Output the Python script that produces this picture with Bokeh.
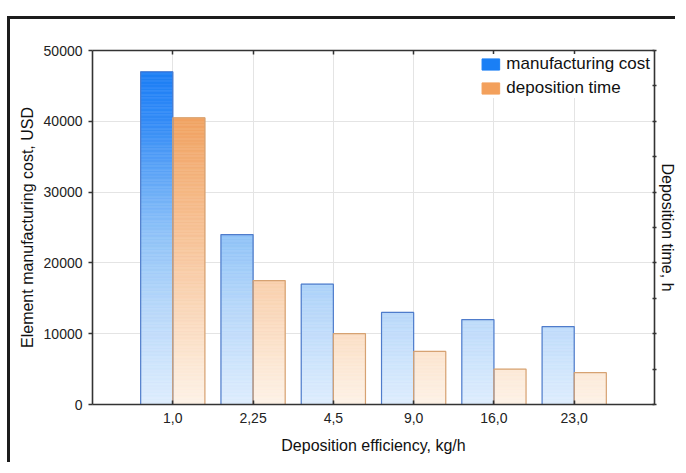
import numpy as np
from bokeh.plotting import figure
from bokeh.models import ColumnDataSource, FixedTicker, LinearAxis, Legend, LegendItem, Range1d
from bokeh.embed import file_html
from bokeh.resources import INLINE

categories = ["1,0", "2,25", "4,5", "9,0", "16,0", "23,0"]
manufacturing_cost = [47000, 24000, 17000, 13000, 12000, 11000]
deposition_time = [40500, 17500, 10000, 7500, 5000, 4500]
y_ticks = [0, 10000, 20000, 30000, 40000, 50000]
right_ticks = list(range(0, 50001, 5000))

# gradient stops (value -> rgb), gradient follows the y scale
blue_stops = [(0, (222, 237, 253)), (13000, (186, 217, 250)), (24000, (144, 195, 248)),
              (40000, (52, 140, 246)), (50000, (18, 120, 245))]
orange_stops = [(0, (253, 242, 231)), (10000, (251, 223, 198)), (17500, (249, 207, 172)),
                (40500, (241, 163, 98)), (50000, (236, 148, 78))]

FONT = "Liberation Sans"
BW = 0.4
STEP = 200.0


def grad_color(v, stops):
    xs = [s[0] for s in stops]
    rgb = [int(round(np.interp(v, xs, [s[1][k] for s in stops]))) for k in range(3)]
    return "#%02x%02x%02x" % tuple(rgb)


def slices(values, offset, stops):
    left, right, bottom, top, color = [], [], [], [], []
    for i, v in enumerate(values):
        edges = list(np.arange(0, v, STEP)) + [v]
        for b, t in zip(edges[:-1], edges[1:]):
            left.append(i + offset)
            right.append(i + offset + BW)
            bottom.append(b)
            top.append(t)
            color.append(grad_color((b + t) / 2, stops))
    return ColumnDataSource(dict(left=left, right=right, bottom=bottom, top=top, color=color))


p = figure(width=668, height=446, output_backend="svg", toolbar_location=None,
           x_range=Range1d(-1, len(categories)), y_range=Range1d(0, 50000),
           min_border_left=82, min_border_right=22, min_border_top=31, min_border_bottom=61)
p.styles = {"border-left": "3px solid #1c1c1c", "border-top": "3px solid #1c1c1c"}
p.margin = (16, 0, 0, 7)
p.outline_line_color = None
p.background_fill_color = "white"

xs = np.arange(len(categories))

# bars
sb = slices(manufacturing_cost, -BW, blue_stops)
so = slices(deposition_time, 0.0, orange_stops)
p.quad(left="left", right="right", bottom="bottom", top="top", fill_color="color",
       line_color="color", line_width=0.6, source=sb)
p.quad(left="left", right="right", bottom="bottom", top="top", fill_color="color",
       line_color="color", line_width=0.6, source=so)
p.quad(left=xs - BW, right=xs, bottom=0, top=manufacturing_cost, fill_color=None,
       line_color="#4f7ccb", line_width=1.2)
p.quad(left=xs, right=xs + BW, bottom=0, top=deposition_time, fill_color=None,
       line_color="#d6a272", line_width=1.2)

# legend swatches (not drawn in the plot area: NaN geometry)
nan = [float("nan")]
r_blue = p.quad(left=nan, right=nan, bottom=nan, top=nan, fill_color="#1a7ff5", line_color="#1a7ff5")
r_or = p.quad(left=nan, right=nan, bottom=nan, top=nan, fill_color="#f3a05c", line_color="#f3a05c")
legend = Legend(items=[LegendItem(label="manufacturing cost", renderers=[r_blue]),
                       LegendItem(label="deposition time", renderers=[r_or])],
                location="top_right", margin=4, padding=3, spacing=4, label_standoff=5,
                glyph_width=22, glyph_height=14, border_line_color=None,
                background_fill_color="white", background_fill_alpha=1.0,
                label_text_font=FONT, label_text_font_size="17px", label_text_color="#111111",
                label_height=14)
p.add_layout(legend)

# grids
p.xgrid.ticker = FixedTicker(ticks=list(xs))
p.ygrid.ticker = FixedTicker(ticks=y_ticks)
for g in (p.xgrid, p.ygrid):
    g.grid_line_color = "#e4e4e4"
    g.grid_line_width = 1

# bottom axis
ax = p.xaxis[0]
ax.ticker = FixedTicker(ticks=list(xs))
ax.major_label_overrides = {int(i): c for i, c in zip(xs, categories)}
ax.axis_label = "Deposition efficiency, kg/h"
ax.minor_tick_line_color = None
ax.major_tick_in = 4
ax.major_tick_out = 0
ax.major_label_standoff = 8

# left axis
ay = p.yaxis[0]
ay.ticker = FixedTicker(ticks=y_ticks)
ay.axis_label = "Element manufacturing cost, USD"
ay.minor_tick_line_color = None
ay.major_tick_in = 0
ay.major_tick_out = 4
ay.major_label_standoff = 6

# top axis
top = LinearAxis(ticker=FixedTicker(ticks=list(xs)),
                 major_label_overrides={int(i): "" for i in xs})
top.minor_tick_line_color = None
top.major_tick_in = 4
top.major_tick_out = 0
p.add_layout(top, "above")

# right axis
right = LinearAxis(ticker=FixedTicker(ticks=right_ticks),
                   major_label_overrides={t: "" for t in right_ticks},
                   axis_label="Deposition time, h")
right.minor_tick_line_color = None
right.major_tick_in = 2
right.major_tick_out = 2
right.major_label_standoff = 0
p.add_layout(right, "right")

for a in (ax, ay, top, right):
    a.axis_line_color = "#333333"
    a.axis_line_width = 1.6
    a.major_tick_line_color = "#333333"
    a.major_tick_line_width = 1.5
    a.major_label_text_font = FONT
    a.major_label_text_font_size = "14px"
    a.major_label_text_color = "#222222"
    a.axis_label_text_font = FONT
    a.axis_label_text_font_size = "16px"
    a.axis_label_text_font_style = "normal"
    a.axis_label_text_color = "#111111"

ax.axis_label_standoff = 11
ay.axis_label_standoff = 5
right.axis_label_standoff = 2

open("out.html", "w").write(file_html(p, INLINE))
